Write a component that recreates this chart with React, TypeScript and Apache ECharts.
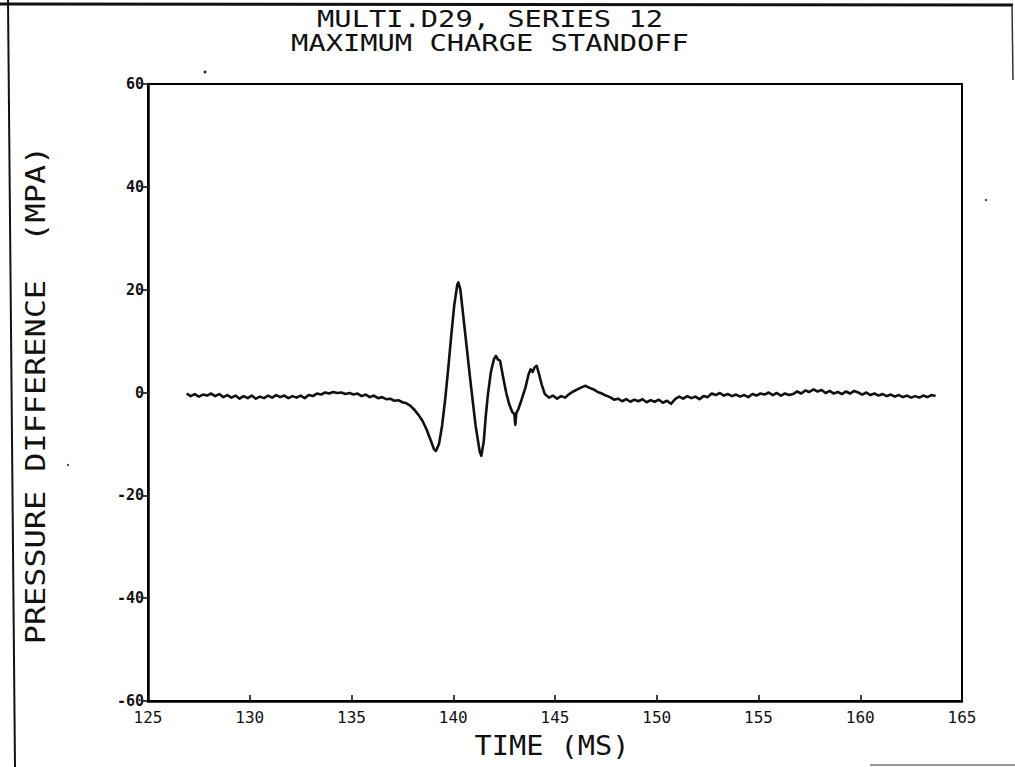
import React, { useEffect, useRef } from "react";
import * as echarts from "echarts";

const titleLines = ["MULTI.D29, SERIES 12", "MAXIMUM CHARGE STANDOFF"];
const xAxisTitle = "TIME (MS)";
const yAxisTitle = "PRESSURE DIFFERENCE  (MPA)";
const xTicks = [125, 130, 135, 140, 145, 150, 155, 160, 165];
const yTicks = [-60, -40, -20, 0, 20, 40, 60];

// [time (ms), pressure difference (MPa)]
const preArrival: [number, number][] = [
  [126.9, -0.2], [127.1, -0.7], [127.3, -0.3], [127.5, -0.8], [127.7, -0.4], [127.9, -0.6],
  [128.1, -0.2], [128.3, -0.7], [128.5, -0.3], [128.7, -0.9], [128.9, -0.5], [129.1, -1.0],
  [129.3, -0.6], [129.5, -1.2], [129.7, -0.7], [129.9, -1.1], [130.1, -0.6], [130.3, -1.2],
  [130.5, -0.8], [130.7, -1.1], [130.9, -0.6], [131.1, -1.0], [131.3, -0.5], [131.5, -0.9],
  [131.7, -0.6], [131.9, -1.1], [132.1, -0.7], [132.3, -1.0], [132.5, -0.6], [132.7, -1.1],
  [132.9, -0.5], [133.1, -0.7], [133.3, -0.2], [133.5, -0.4], [133.7, 0.0], [133.9, -0.2],
  [134.1, 0.1], [134.3, -0.1], [134.5, 0.0], [134.7, -0.3], [134.9, -0.1], [135.1, -0.4],
  [135.3, -0.2], [135.5, -0.7], [135.7, -0.4], [135.9, -0.9], [136.1, -0.6], [136.3, -1.1],
  [136.5, -0.9], [136.7, -1.3], [136.9, -1.2], [137.1, -1.6], [137.3, -1.5], [137.5, -1.9],
  [137.7, -2.1], [137.9, -2.6],
];

const mainPulse: [number, number][] = [
  [138.1, -3.4], [138.3, -4.4], [138.5, -5.6], [138.7, -7.3], [138.9, -9.4], [139.05, -11.0],
  [139.15, -11.4], [139.3, -10.0], [139.45, -6.5], [139.6, -1.5], [139.75, 4.5], [139.9, 11.0],
  [140.05, 17.0], [140.2, 21.0], [140.25, 21.4], [140.35, 20.0], [140.6, 11.0], [140.85, 2.0],
  [141.1, -6.5], [141.3, -11.5], [141.38, -12.3], [141.5, -9.5], [141.6, -4.5], [141.7, -0.5],
  [141.85, 4.0], [142.0, 6.5], [142.1, 7.1], [142.2, 6.4], [142.3, 6.2], [142.45, 3.0],
  [142.6, 0.0], [142.75, -2.3], [142.9, -3.8], [143.0, -4.2], [143.05, -6.3], [143.1, -4.0],
  [143.2, -3.2], [143.35, -1.5], [143.55, 1.0], [143.7, 3.5], [143.8, 4.5], [143.9, 4.0],
  [144.0, 4.9], [144.1, 5.2], [144.2, 3.8], [144.35, 1.5], [144.5, -0.3], [144.7, -1.0],
];

const tail: [number, number][] = [
  [144.9, -0.6], [145.1, -1.2], [145.3, -0.7], [145.5, -1.0], [145.7, -0.3], [145.9, 0.2],
  [146.1, 0.6], [146.3, 1.0], [146.5, 1.3], [146.7, 0.9], [146.9, 0.6], [147.1, 0.1],
  [147.3, -0.2], [147.5, -0.6], [147.7, -0.9], [147.9, -1.4], [148.1, -1.2], [148.3, -1.7],
  [148.5, -1.3], [148.7, -1.8], [148.9, -1.4], [149.1, -1.7], [149.3, -1.3], [149.5, -1.9],
  [149.7, -1.5], [149.9, -1.8], [150.1, -1.4], [150.3, -2.0], [150.5, -1.6], [150.7, -2.2],
  [150.9, -1.3], [151.1, -0.8], [151.3, -1.2], [151.5, -0.7], [151.7, -1.1], [151.9, -0.8],
  [152.1, -1.3], [152.3, -0.7], [152.5, -0.9], [152.7, -0.2], [152.9, -0.5], [153.1, -0.1],
  [153.3, -0.6], [153.5, -0.3], [153.7, -0.7], [153.9, -0.4], [154.1, -0.8], [154.3, -0.5],
  [154.5, -0.9], [154.7, -0.3], [154.9, -0.6], [155.1, -0.2], [155.3, -0.4], [155.5, 0.0],
  [155.7, -0.5], [155.9, -0.1], [156.1, -0.6], [156.3, -0.2], [156.5, -0.5], [156.7, -0.3],
  [156.9, 0.2], [157.1, -0.2], [157.3, 0.4], [157.5, 0.1], [157.7, 0.6], [157.9, 0.2],
  [158.1, 0.5], [158.3, -0.1], [158.5, 0.3], [158.7, -0.2], [158.9, 0.1], [159.1, -0.3],
  [159.3, 0.2], [159.5, -0.2], [159.7, 0.3], [159.9, 0.0], [160.1, -0.4], [160.3, 0.0],
  [160.5, -0.5], [160.7, -0.2], [160.9, -0.6], [161.1, -0.3], [161.3, -0.7], [161.5, -0.4],
  [161.7, -0.8], [161.9, -0.5], [162.1, -0.9], [162.3, -0.6], [162.5, -1.0], [162.7, -0.7],
  [162.9, -1.0], [163.1, -0.6], [163.3, -0.9], [163.5, -0.5], [163.7, -0.7],
];

const FONT = "'DejaVu Sans Mono', monospace";
const INK = "#111";

export default function App() {
  const ref = useRef<HTMLDivElement>(null);
  useEffect(() => {
    if (!ref.current) return;
    const chart = echarts.init(ref.current, undefined, { renderer: "svg" });
    const trace = [...preArrival, ...mainPulse, ...tail];
    const textStyle = (text: string, size: number) => ({
      text,
      fontFamily: FONT,
      fontSize: size,
      fill: INK,
      align: "center",
      verticalAlign: "middle",
    });
    chart.setOption({
      animation: false,
      backgroundColor: "#ffffff",
      grid: {
        left: 148,
        right: 53,
        top: 84,
        bottom: 66,
        show: true,
        borderColor: "#000",
        borderWidth: 2,
        containLabel: false,
      },
      xAxis: {
        type: "value",
        min: xTicks[0],
        max: xTicks[xTicks.length - 1],
        interval: 5,
        axisLine: { show: true, onZero: false, lineStyle: { color: "#000", width: 2.5 } },
        axisTick: { show: true, inside: true, length: 6, lineStyle: { color: "#000", width: 1.5 } },
        axisLabel: {
          fontFamily: FONT,
          fontSize: 16,
          color: INK,
          margin: 8,
          showMinLabel: true,
          showMaxLabel: true,
        },
        splitLine: { show: false },
      },
      yAxis: {
        type: "value",
        min: yTicks[0],
        max: yTicks[yTicks.length - 1],
        interval: 20,
        axisLine: { show: true, onZero: false, lineStyle: { color: "#000", width: 2.5 } },
        axisTick: { show: true, inside: false, length: 5, lineStyle: { color: "#000", width: 1.5 } },
        axisLabel: {
          fontFamily: FONT,
          fontSize: 15,
          fontWeight: "bold",
          color: INK,
          margin: 4,
          showMinLabel: true,
          showMaxLabel: true,
        },
        splitLine: { show: false },
      },
      series: [
        {
          type: "line",
          data: trace,
          showSymbol: false,
          symbol: "none",
          lineStyle: { color: INK, width: 2.6, join: "round" },
          z: 3,
        },
      ],
      graphic: [
        { type: "text", x: 490, y: 19.5, scaleX: 1.25, style: textStyle(titleLines[0], 23) },
        { type: "text", x: 490, y: 43, scaleX: 1.25, style: textStyle(titleLines[1], 23) },
        { type: "text", x: 552, y: 746, scaleX: 1.06, style: textStyle(xAxisTitle, 27) },
        {
          type: "text",
          x: 36,
          y: 395,
          rotation: Math.PI / 2,
          scaleX: 1.18,
          style: textStyle(yAxisTitle, 27),
        },
        { type: "line", shape: { x1: 0, y1: 4, x2: 1013, y2: 5 }, style: { stroke: INK, lineWidth: 3 } },
        { type: "line", shape: { x1: 1012, y1: 5, x2: 1013, y2: 80 }, style: { stroke: "#333", lineWidth: 1.5 } },
        { type: "line", shape: { x1: 8, y1: 0, x2: 15, y2: 767 }, style: { stroke: INK, lineWidth: 2 } },
        { type: "line", shape: { x1: 870, y1: 765, x2: 1015, y2: 765 }, style: { stroke: "#777", lineWidth: 1.5 } },
        { type: "circle", shape: { cx: 205, cy: 72, r: 1.5 }, style: { fill: "#222" } },
        { type: "circle", shape: { cx: 986, cy: 200, r: 1.2 }, style: { fill: "#444" } },
        { type: "circle", shape: { cx: 68, cy: 465, r: 1.2 }, style: { fill: "#444" } },
      ],
    });
    return () => chart.dispose();
  }, []);
  return (
    <div
      ref={ref}
      style={{ position: "fixed", left: 0, top: 0, width: 1015, height: 767, background: "#fff" }}
    />
  );
}
